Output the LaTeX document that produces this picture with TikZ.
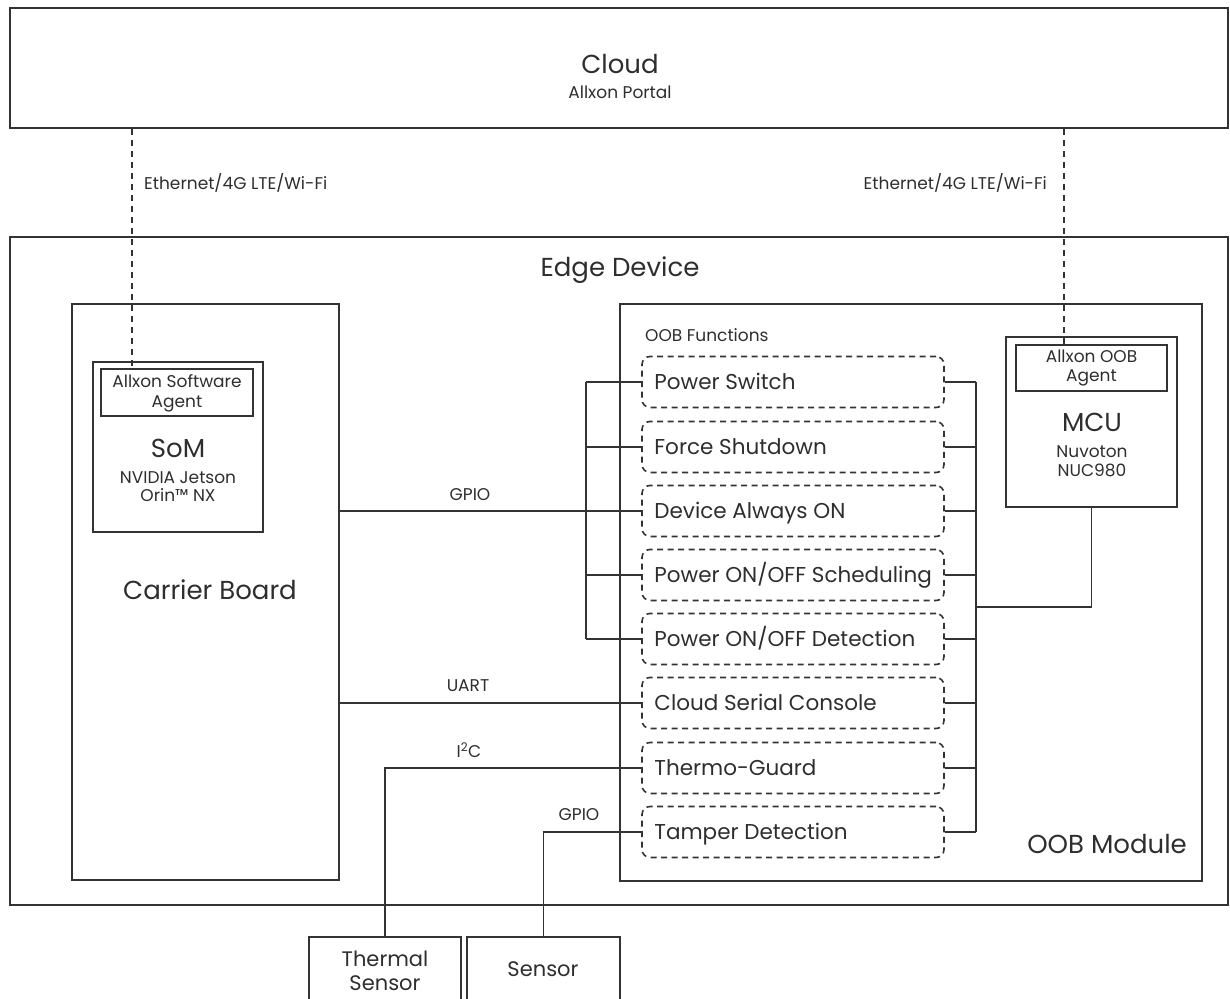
\documentclass[tikz,border=0pt]{standalone}
\usepackage{fontspec}
\setmainfont{Poppins}
\begin{document}
\begin{tikzpicture}[x=1pt,y=-1pt,
  lc/.style={draw=black!80, line width=1.8pt},
  box/.style={lc, rectangle, inner sep=0pt, fill=none},
  fbox/.style={draw=black!80, line width=1.6pt, dash pattern=on 6pt off 4.5pt, rounded corners=8pt, rectangle, inner sep=0pt, minimum width=302pt, minimum height=51pt},
  wire/.style={draw=black!80, line width=1.4pt},
  dwire/.style={draw=black!80, line width=1.8pt, dash pattern=on 6pt off 5pt},
  txt/.style={text=black!82, inner sep=0pt, align=center},
  big/.style={txt, font=\fontsize{26}{30}\selectfont},
  xs/.style={txt, font=\fontsize{17}{18.5}\selectfont},
  ag/.style={txt, font=\fontsize{17}{19.5}\selectfont},
  ftxt/.style={txt, anchor=base west, font=\fontsize{21.5}{25}\selectfont}
]
\useasboundingbox (0,0) rectangle (1230,998);

% boxes
\node[box, minimum width=1218pt, minimum height=120pt] (cloud) at (619,68) {};
\node[big] (cloudT) at (620,64) {Cloud};
\node[xs] (cloudS) at (620,92) {Allxon Portal};

\node[box, minimum width=1218pt, minimum height=668pt] (edge) at (619,571) {};
\node[big] (edgeT) at (620,270) {Edge Device};

\node[box, minimum width=267pt, minimum height=576pt] (carrier) at (205.5,592) {};
\node[big] (carrierT) at (210,590) {Carrier Board};

\node[box, minimum width=170pt, minimum height=170pt] (som) at (178,447) {};
\node[box, minimum width=152pt, minimum height=47pt] (swagent) at (177,392.5) {};
\node[ag] (swagentT) at (177,393.5) {Allxon Software\\Agent};
\node[big] (somT) at (178,448) {SoM};
\node[xs] (somS) at (178,486.5) {NVIDIA Jetson\\Orin™ NX};

\node[box, minimum width=582pt, minimum height=577pt] (oob) at (911,592.5) {};
\node[big] (oobT) at (1107,844) {OOB Module};
\node[xs, anchor=west] (oobF) at (645,335) {OOB Functions};

\node[box, minimum width=171pt, minimum height=170pt] (mcu) at (1091.5,422) {};
\node[box, minimum width=151pt, minimum height=46pt] (oobagent) at (1091.5,368) {};
\node[ag] (oobagentT) at (1091.5,368) {Allxon OOB\\Agent};
\node[big] (mcuT) at (1092,422) {MCU};
\node[xs] (mcuS) at (1092,461) {Nuvoton\\NUC980};

% function boxes
\foreach \n/\y/\t in {f1/382/{Power Switch}, f2/447/{Force Shutdown}, f3/511/{Device Always ON}, f4/575/{Power ON/OFF Scheduling}, f5/639/{Power ON/OFF Detection}, f6/703/{Cloud Serial Console}, f7/768/{Thermo-Guard}, f8/832/{Tamper Detection}}{
  \node[fbox] (\n) at (793,\y) {};
  \node[ftxt, xshift=13pt, yshift=-7.7pt] (\n T) at (\n.west) {\t};
}

% sensors
\node[box, minimum width=152pt, minimum height=70pt] (thermal) at (385,972) {};
\node[txt, font=\fontsize{21}{24}\selectfont] (thermalT) at (385,970.5) {Thermal\\Sensor};
\node[box, minimum width=153pt, minimum height=70pt] (sensor) at (543.5,972) {};
\node[txt, font=\fontsize{21}{24}\selectfont] (sensorT) at (543,969) {Sensor};

% network links
\coordinate (nl) at (132,0);
\coordinate (nr) at (1064,0);
\draw[dwire] (cloud.south -| nl) -- (swagent.north -| nl);
\draw[dwire] (cloud.south -| nr) -- (oobagent.north -| nr);
\node[xs, anchor=west] (ethL) at (144,183) {Ethernet/4G LTE/Wi-Fi};
\node[xs, anchor=east] (ethR) at (1047,183) {Ethernet/4G LTE/Wi-Fi};

% left bus
\coordinate (bl) at (586,0);
\draw[wire] (f1.west -| bl) -- (f5.west -| bl);
\foreach \n in {f1,f2,f4,f5}{ \draw[wire] (\n.west -| bl) -- (\n.west); }
\draw[wire] (carrier.east |- f3.west) -- (f3.west);
\node[xs] (gpio1) at (470,495) {GPIO};
\draw[wire] (carrier.east |- f6.west) -- (f6.west);
\node[xs] (uart) at (468,686) {UART};
\draw[wire] (f7.west) -| (thermal.north);
\node[xs] (i2c) at (469,750) {I\textsuperscript{2}C};
\draw[wire] (f8.west) -| (sensor.north);
\node[xs] (gpio2) at (579,815) {GPIO};

% right bus
\coordinate (br) at (976,0);
\coordinate (bm) at (976,607);
\draw[wire] (f1.east -| br) -- (f8.east -| br);
\foreach \n in {f1,f2,f3,f4,f5,f6,f7,f8}{ \draw[wire] (\n.east) -- (\n.east -| br); }
\draw[wire] (bm) -| (mcu.south);
\end{tikzpicture}
\end{document}
